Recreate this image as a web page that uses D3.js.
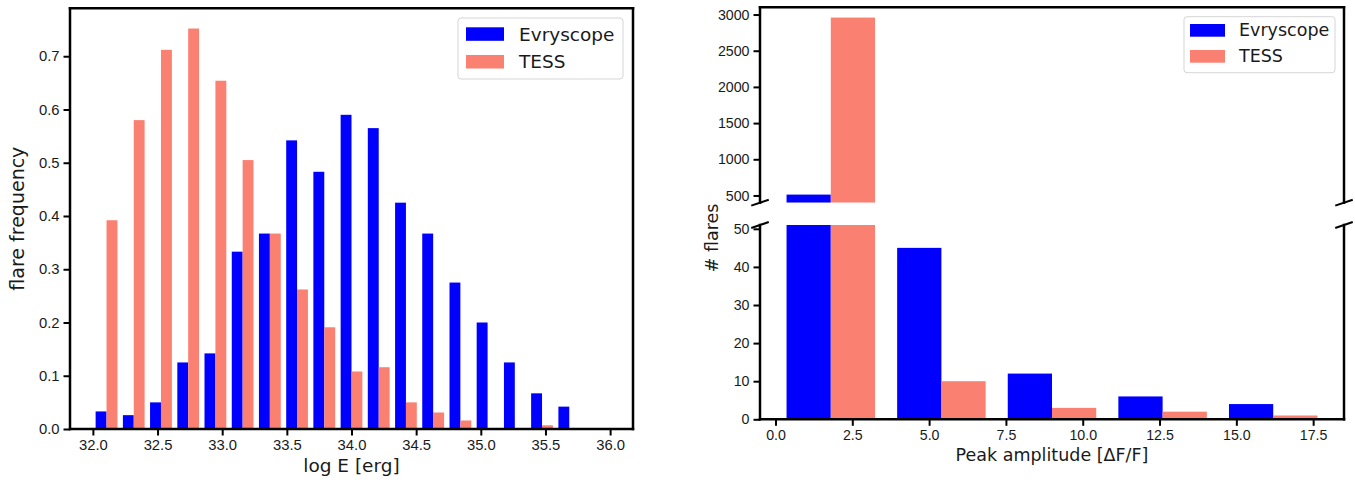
<!DOCTYPE html>
<html>
<head>
<meta charset="utf-8">
<script src="https://cdn.jsdelivr.net/npm/d3@7"></script>
<style>
body { margin: 0; background: #fff; }
svg { font-family: "DejaVu Sans", sans-serif; }
.tick text { fill: #1a1a1a; }
</style>
</head>
<body>
<script>
// left panel: normalised energy histogram, 19 bins from 32 to 36
var energyEdges = [32.000, 32.211, 32.421, 32.632, 32.842, 33.053, 33.263, 33.474, 33.684, 33.895,
    34.105, 34.316, 34.526, 34.737, 34.947, 35.158, 35.368, 35.579, 35.789, 36.000];
var energyEvry = [0.033, 0.026, 0.05, 0.125, 0.142, 0.333, 0.367, 0.542, 0.483, 0.59,
    0.565, 0.425, 0.367, 0.275, 0.2, 0.125, 0.067, 0.042, 0];
var energyTess = [0.392, 0.58, 0.712, 0.752, 0.654, 0.505, 0.367, 0.262, 0.191, 0.108,
    0.116, 0.05, 0.031, 0.016, 0, 0, 0.007, 0, 0];
var energyTicks = [32.0, 32.5, 33.0, 33.5, 34.0, 34.5, 35.0, 35.5, 36.0];
var freqTicks = [0.0, 0.1, 0.2, 0.3, 0.4, 0.5, 0.6, 0.7];

// right panel: peak amplitude counts, broken y axis
var ampEdges = [0, 3.6, 7.2, 10.8, 14.4, 18];
var ampEvry = [512, 45, 12, 6, 4];
var ampTess = [2958, 10, 3, 2, 1];
var ampTicks = [0.0, 2.5, 5.0, 7.5, 10.0, 12.5, 15.0, 17.5];
var countTicksTop = [500, 1000, 1500, 2000, 2500, 3000];
var countTicksBottom = [0, 10, 20, 30, 40, 50];

var seriesNames = ["Evryscope", "TESS"];
var colors = ["#0000ff", "#fa8072"];

var svg = d3.select("body").append("svg").attr("width", 1355).attr("height", 483);

// bars as matplotlib draws a 2-dataset hist: 80% of bin, split in two
function binBars(edges, values, k) {
    return values.map(function (v, i) {
        var w = edges[i + 1] - edges[i];
        var x0 = edges[i] + 0.1 * w + k * 0.4 * w;
        return {x0: x0, x1: x0 + 0.4 * w, v: v};
    });
}

function drawBars(g, edges, vals, k, x, y, y0) {
    g.selectAll(null)
        .data(binBars(edges, vals, k).filter(function (d) { return d.v > 0; }))
        .enter().append("rect")
        .attr("x", function (d) { return x(d.x0); })
        .attr("width", function (d) { return x(d.x1) - x(d.x0); })
        .attr("y", function (d) { return y(d.v); })
        .attr("height", function (d) { return y(y0) - y(d.v); })
        .attr("fill", colors[k]);
}

function styleAxis(g, size) {
    g.select(".domain").remove();
    g.selectAll(".tick line").attr("stroke", "#000").attr("stroke-width", 2);
    g.selectAll(".tick text").attr("font-size", size);
}

function spine(x1, y1, x2, y2) {
    svg.append("line").attr("x1", x1).attr("y1", y1).attr("x2", x2).attr("y2", y2)
        .attr("stroke", "#000").attr("stroke-width", 2.5).attr("stroke-linecap", "square");
}

function legend(x, y, w, h, px, pw, ph, rows, tx, fs) {
    var g = svg.append("g");
    g.append("rect").attr("x", x).attr("y", y).attr("width", w).attr("height", h)
        .attr("rx", 3).attr("fill", "#fff").attr("fill-opacity", 0.8)
        .attr("stroke", "#d5d5d5").attr("stroke-width", 1);
    seriesNames.forEach(function (name, i) {
        g.append("rect").attr("x", px).attr("y", rows[i]).attr("width", pw).attr("height", ph)
            .attr("fill", colors[i]);
        g.append("text").attr("x", tx).attr("y", rows[i] + ph * 0.98)
            .attr("font-size", fs).attr("fill", "#1a1a1a").text(name);
    });
}

// ---------- left panel ----------
var L = {left: 70, right: 633, top: 8.3, bottom: 429};
var xE = d3.scaleLinear().domain([31.823, 36.177]).range([L.left, L.right]);
var yF = d3.scaleLinear().domain([0, 0.79]).range([L.bottom, L.top]);

var gl = svg.append("g");
drawBars(gl, energyEdges, energyEvry, 0, xE, yF, 0);
drawBars(gl, energyEdges, energyTess, 1, xE, yF, 0);

var axL = svg.append("g").attr("transform", "translate(" + L.left + ",0)")
    .call(d3.axisLeft(yF).tickValues(freqTicks).tickFormat(d3.format(".1f")).tickSize(6.5).tickPadding(4));
styleAxis(axL, 14.8);
var axB = svg.append("g").attr("transform", "translate(0," + L.bottom + ")")
    .call(d3.axisBottom(xE).tickValues(energyTicks).tickFormat(d3.format(".1f")).tickSize(6.5).tickPadding(4));
styleAxis(axB, 14.8);

spine(L.left, L.top, L.left, L.bottom);
spine(L.left, L.bottom, L.right, L.bottom);
spine(L.right, L.top, L.right, L.bottom);
spine(L.left, L.top, L.right, L.top);

svg.append("text").attr("x", (L.left + L.right) / 2).attr("y", 472)
    .attr("text-anchor", "middle").attr("font-size", 18.5).attr("fill", "#1a1a1a").text("log E [erg]");
svg.append("text").attr("transform", "translate(24," + (L.top + L.bottom) / 2 + ") rotate(-90)")
    .attr("text-anchor", "middle").attr("font-size", 19).attr("fill", "#1a1a1a").text("flare frequency");

legend(458, 18, 165, 61, 466, 38, 13.5, [27.3, 55], 519, 18.5);

// ---------- right panel ----------
var R = {left: 760, right: 1344, top: 7.3, mid1: 202.7, mid2: 225, bottom: 419.3};
var xA = d3.scaleLinear().domain([-0.504, 18.504]).range([R.left, R.right]);
var yTop = d3.scaleLinear().domain([400, 3100]).range([R.mid1, R.top]);
var yBot = d3.scaleLinear().domain([0, 51]).range([R.bottom, R.mid2]);

var defs = svg.append("defs");
defs.append("clipPath").attr("id", "clipTop").append("rect")
    .attr("x", R.left).attr("y", R.top).attr("width", R.right - R.left).attr("height", R.mid1 - R.top);
defs.append("clipPath").attr("id", "clipBot").append("rect")
    .attr("x", R.left).attr("y", R.mid2).attr("width", R.right - R.left).attr("height", R.bottom - R.mid2);

var gt = svg.append("g").attr("clip-path", "url(#clipTop)");
drawBars(gt, ampEdges, ampEvry, 0, xA, yTop, 400);
drawBars(gt, ampEdges, ampTess, 1, xA, yTop, 400);
var gb = svg.append("g").attr("clip-path", "url(#clipBot)");
drawBars(gb, ampEdges, ampEvry, 0, xA, yBot, 0);
drawBars(gb, ampEdges, ampTess, 1, xA, yBot, 0);

var axRT = svg.append("g").attr("transform", "translate(" + R.left + ",0)")
    .call(d3.axisLeft(yTop).tickValues(countTicksTop).tickFormat(d3.format("d")).tickSize(6.5).tickPadding(4));
styleAxis(axRT, 14.2);
var axRB = svg.append("g").attr("transform", "translate(" + R.left + ",0)")
    .call(d3.axisLeft(yBot).tickValues(countTicksBottom).tickFormat(d3.format("d")).tickSize(6.5).tickPadding(4));
styleAxis(axRB, 14.2);
var axRX = svg.append("g").attr("transform", "translate(0," + R.bottom + ")")
    .call(d3.axisBottom(xA).tickValues(ampTicks).tickFormat(d3.format(".1f")).tickSize(6.5).tickPadding(4));
styleAxis(axRX, 14.2);

// top axes: left, right, top spines; bottom axes: left, right, bottom spines
spine(R.left, R.top, R.right, R.top);
spine(R.left, R.top, R.left, R.mid1);
spine(R.right, R.top, R.right, R.mid1);
spine(R.left, R.mid2, R.left, R.bottom);
spine(R.right, R.mid2, R.right, R.bottom);
spine(R.left, R.bottom, R.right, R.bottom);

// break marks
var dx = 0.015 * (R.right - R.left), dy = 0.015 * (R.mid1 - R.top);
[[R.left, R.mid1], [R.right, R.mid1], [R.left, R.mid2], [R.right, R.mid2]].forEach(function (p) {
    svg.append("line").attr("x1", p[0] - dx).attr("y1", p[1] + dy)
        .attr("x2", p[0] + dx).attr("y2", p[1] - dy)
        .attr("stroke", "#000").attr("stroke-width", 2);
});

svg.append("text").attr("x", 1052).attr("y", 461)
    .attr("text-anchor", "middle").attr("font-size", 17.5).attr("fill", "#1a1a1a").text("Peak amplitude [ΔF/F]");
svg.append("text").attr("transform", "translate(718,238) rotate(-90)")
    .attr("text-anchor", "middle").attr("font-size", 17.5).attr("fill", "#1a1a1a").text("# flares");

legend(1184, 16.7, 151, 56, 1190, 35, 12.7, [24, 50], 1239, 17.5);
</script>
</body>
</html>
